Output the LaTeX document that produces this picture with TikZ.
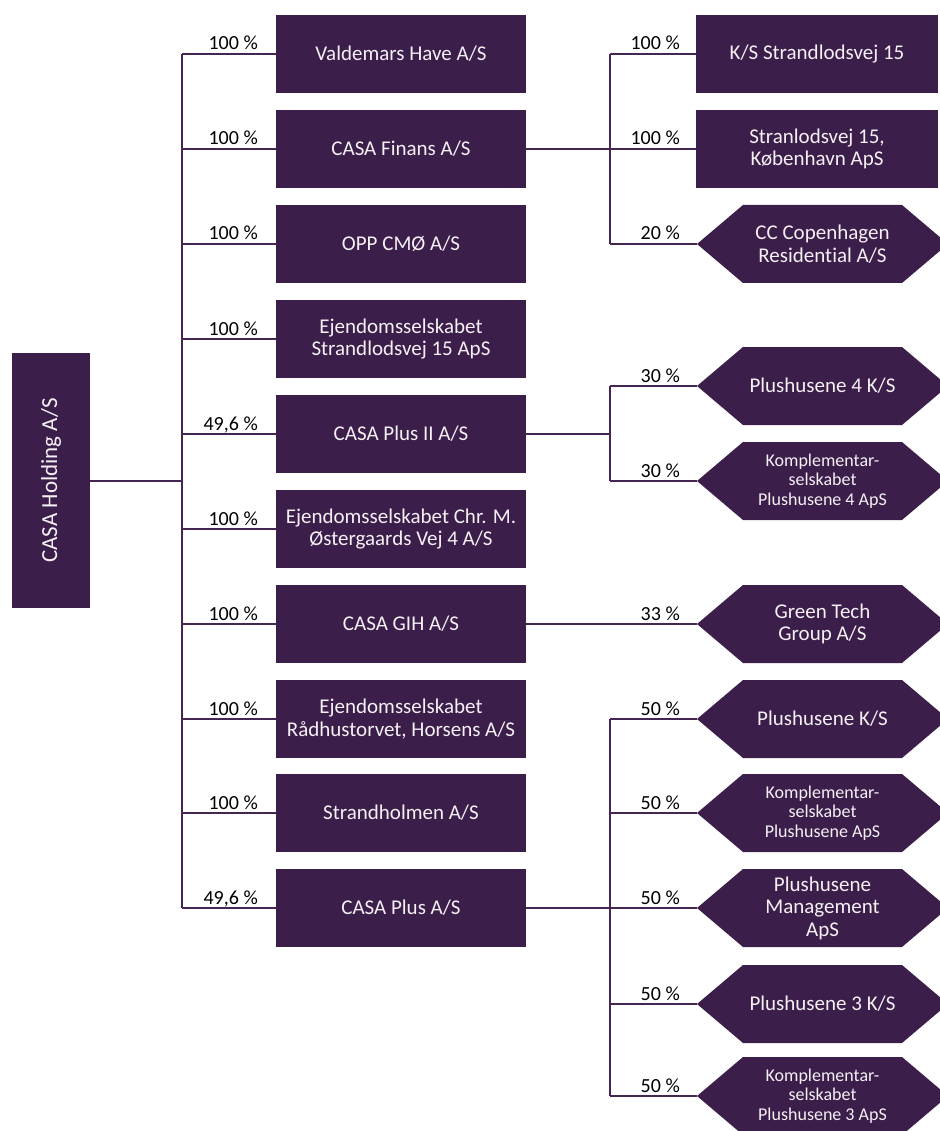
\documentclass[tikz,border=0pt]{standalone}
\usepackage{fontspec}
\setmainfont{Carlito}[Ligatures=NoCommon]
\definecolor{boxc}{HTML}{3C1E4A}
\definecolor{linec}{HTML}{452652}
\definecolor{txtc}{HTML}{F4F0F4}
\tikzset{
  box/.style={fill=boxc, text=txtc, minimum width=250pt, minimum height=78pt, inner sep=0pt, align=center, font=\fontsize{21}{22.5}\selectfont},
  rbox/.style={box, minimum width=242pt},
  hex/.style={text=txtc, minimum width=251pt, minimum height=78pt, inner sep=0pt, align=center, font=\fontsize{21}{22.5}\selectfont,
    path picture={\fill[boxc] (path picture bounding box.west) -- ([xshift=46pt]path picture bounding box.north west) -- ([xshift=-46pt]path picture bounding box.north east) -- (path picture bounding box.east) -- ([xshift=-46pt]path picture bounding box.south east) -- ([xshift=46pt]path picture bounding box.south west) -- cycle;}},
  small/.style={font=\fontsize{18}{19.5}\selectfont},
  conn/.style={draw=linec, line width=2pt},
  pct/.style={anchor=base east, inner sep=0pt, font=\fontsize{20}{22}\selectfont, text=black},
}
\begin{document}
\begin{tikzpicture}[x=1pt,y=-1pt]
\useasboundingbox (0,0) rectangle (939,1131);
% holding
\node[box, rotate=90, minimum width=255pt, font=\fontsize{23}{24}\selectfont] (hold) at (51,480.5) {CASA Holding A/S};
% middle column
\node[box] (vh) at (401,54) {Valdemars Have A/S};
\node[box] (cf) at (401,149) {CASA Finans A/S};
\node[box] (opp) at (401,244) {OPP CMØ A/S};
\node[box] (es) at (401,339) {Ejendomsselskabet\\Strandlodsvej 15 ApS};
\node[box] (cp2) at (401,434) {CASA Plus II A/S};
\node[box] (ec) at (401,529) {Ejendomsselskabet Chr. M.\\Østergaards Vej 4 A/S};
\node[box] (gih) at (401,624) {CASA GIH A/S};
\node[box] (er) at (401,719) {Ejendomsselskabet\\Rådhustorvet, Horsens A/S};
\node[box] (sh) at (401,813) {Strandholmen A/S};
\node[box] (cp) at (401,908) {CASA Plus A/S};
% right column
\node[rbox] (ks) at (817,54) {K/S Strandlodsvej 15};
\node[rbox] (sk) at (817,149) {Stranlodsvej 15,\\København ApS};
\node[hex] (cc) at (822.5,244) {CC Copenhagen\\Residential A/S};
\node[hex] (p4) at (822.5,386) {Plushusene 4 K/S};
\node[hex, small] (k4) at (822.5,481) {Komplementar-\\selskabet\\Plushusene 4 ApS};
\node[hex] (gt) at (822.5,624) {Green Tech\\Group A/S};
\node[hex] (pk) at (822.5,719) {Plushusene K/S};
\node[hex, small] (kp) at (822.5,813) {Komplementar-\\selskabet\\Plushusene ApS};
\node[hex] (pm) at (822.5,908) {Plushusene\\Management\\ApS};
\node[hex] (p3) at (822.5,1004) {Plushusene 3 K/S};
\node[hex, small] (k3) at (822.5,1096) {Komplementar-\\selskabet\\Plushusene 3 ApS};
% trunk coordinates
\coordinate (t0) at (182,480.5);
\foreach \n/\y in {vh/54,cf/149,opp/244,es/339,cp2/434,ec/529,gih/624,er/719,sh/813,cp/908}
  \coordinate (t\n) at (182,\y);
\draw[conn] (hold.south) -- (t0);
\draw[conn] (tvh) -- (tcp);
\foreach \n in {vh,cf,opp,es,cp2,ec,gih,er,sh,cp}
  \draw[conn] (t\n) -- (\n.west);
% labels left
\foreach \y/\t in {54/100 \%,149/100 \%,244/100 \%,339/100 \%,434/{49,6 \%},529/100 \%,624/100 \%,719/100 \%,813/100 \%,908/{49,6 \%}}
  \node[pct] at (258,\y-4) {\t};
% right sub trunks
\coordinate (fa) at (610,54);
\coordinate (fb) at (610,149);
\coordinate (fc) at (610,244);
\draw[conn] (cf.east) -- (fb);
\draw[conn] (fa) -- (fc);
\draw[conn] (fa) -- (ks.west);
\draw[conn] (fb) -- (sk.west);
\draw[conn] (fc) -- (cc.west);
\coordinate (pa) at (610,386);
\coordinate (pb) at (610,434);
\coordinate (pc) at (610,481);
\draw[conn] (cp2.east) -- (pb);
\draw[conn] (pa) -- (pc);
\draw[conn] (pa) -- (p4.west);
\draw[conn] (pc) -- (k4.west);
\draw[conn] (gih.east) -- (gt.west);
\coordinate (qa) at (610,719);
\coordinate (qb) at (610,813);
\coordinate (qc) at (610,908);
\coordinate (qd) at (610,1004);
\coordinate (qe) at (610,1096);
\draw[conn] (cp.east) -- (qc);
\draw[conn] (qa) -- (qe);
\draw[conn] (qa) -- (pk.west);
\draw[conn] (qb) -- (kp.west);
\draw[conn] (qc) -- (pm.west);
\draw[conn] (qd) -- (p3.west);
\draw[conn] (qe) -- (k3.west);
% labels right
\foreach \y/\t in {54/100 \%,149/100 \%,244/20 \%,386/30 \%,481/30 \%,624/33 \%,719/50 \%,813/50 \%,908/50 \%,1004/50 \%,1096/50 \%}
  \node[pct] at (680,\y-4) {\t};
\end{tikzpicture}
\end{document}
